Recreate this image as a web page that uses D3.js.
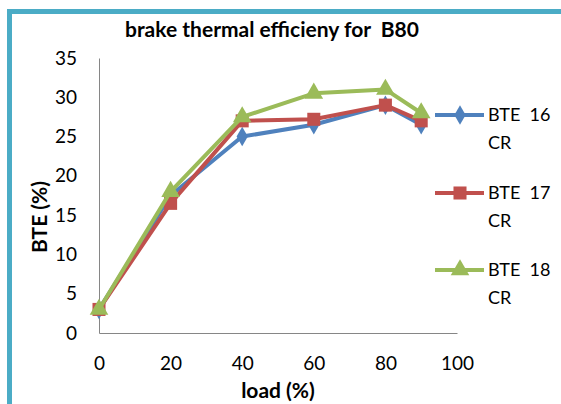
<!DOCTYPE html>
<html>
<head>
<meta charset="utf-8">
<script src="https://cdn.jsdelivr.net/npm/d3@7"></script>
<style>
  body { margin: 0; background: #fff; }
  svg { display: block; font-family: Lato, "Open Sans", sans-serif; }
</style>
</head>
<body>
<div id="chart"></div>
<script>
// 数据
var loads = [0, 20, 40, 60, 80, 90];
var bte16 = [3, 17.5, 25, 26.5, 29, 26.5];
var bte17 = [3, 16.5, 27, 27.2, 29, 27];
var bte18 = [3, 18, 27.5, 30.5, 31, 28];
var xTicks = [0, 20, 40, 60, 80, 100];
var yTicks = [0, 5, 10, 15, 20, 25, 30, 35];
var seriesNames = [["BTE  16", "CR"], ["BTE  17", "CR"], ["BTE  18", "CR"]];

var W = 561, H = 404;
var svg = d3.select("#chart").append("svg").attr("width", W).attr("height", H);

// 外框
svg.append("path")
  .attr("d", "M9.5," + H + " L9.5,11.5 L" + W + ",11.5")
  .attr("fill", "none")
  .attr("stroke", "#4BACC6")
  .attr("stroke-width", 5);

var x = d3.scaleLinear().domain([0, 100]).range([99, 457]);
var y = d3.scaleLinear().domain([0, 35]).range([333, 58]);

svg.append("text")
  .attr("x", 272).attr("y", 37)
  .attr("text-anchor", "middle")
  .attr("font-size", 21).attr("font-weight", "bold")
  .attr("fill", "#000")
  .style("white-space", "pre")
  .text("brake thermal efficieny for  B80");

// 坐标轴
var gx = svg.append("g").attr("transform", "translate(0,333)")
  .call(d3.axisBottom(x).tickValues(xTicks).tickSize(0).tickPadding(24));
var gy = svg.append("g").attr("transform", "translate(99,0)")
  .call(d3.axisLeft(y).tickValues(yTicks).tickSize(0).tickPadding(22));
[gx, gy].forEach(function (g) {
  g.select(".domain").attr("stroke", "#868686").attr("stroke-width", 1);
  g.selectAll("text").attr("font-size", 19).attr("fill", "#000")
    .attr("font-family", "Lato, 'Open Sans', sans-serif");
});

svg.append("text")
  .attr("x", 278).attr("y", 398)
  .attr("text-anchor", "middle")
  .attr("font-size", 21).attr("font-weight", "bold")
  .text("load (%)");
svg.append("text")
  .attr("transform", "translate(47,217) rotate(-90)")
  .attr("text-anchor", "middle")
  .attr("font-size", 21).attr("font-weight", "bold")
  .text("BTE (%)");

var series = [
  { values: bte16, color: "#4F81BD", symbol: d3.symbolDiamond, size: 110 },
  { values: bte17, color: "#C0504D", symbol: d3.symbolSquare, size: 170 },
  { values: bte18, color: "#9BBB59", symbol: d3.symbolTriangle, size: 150 }
];

var line = d3.line().x(function (d) { return x(d[0]); }).y(function (d) { return y(d[1]); });

series.forEach(function (s) {
  var pts = loads.map(function (l, i) { return [l, s.values[i]]; });
  svg.append("path")
    .attr("d", line(pts))
    .attr("fill", "none")
    .attr("stroke", s.color)
    .attr("stroke-width", 4)
    .attr("stroke-linejoin", "round");
  svg.selectAll(null).data(pts).enter().append("path")
    .attr("d", d3.symbol().type(s.symbol).size(s.size))
    .attr("transform", function (d) { return "translate(" + x(d[0]) + "," + y(d[1]) + ")"; })
    .attr("fill", s.color);
});

// 图例
var legendY = [115, 193, 270];
series.forEach(function (s, i) {
  var g = svg.append("g").attr("transform", "translate(0," + legendY[i] + ")");
  g.append("line").attr("x1", 435).attr("x2", 484).attr("y1", 0).attr("y2", 0)
    .attr("stroke", s.color).attr("stroke-width", 4);
  g.append("path").attr("d", d3.symbol().type(s.symbol).size(s.size))
    .attr("transform", "translate(460,0)").attr("fill", s.color);
  var t = g.append("text").attr("font-size", 18).attr("fill", "#000");
  t.append("tspan").attr("x", 488).attr("y", 6).style("white-space", "pre").text(seriesNames[i][0]);
  t.append("tspan").attr("x", 488).attr("y", 34).text(seriesNames[i][1]);
});
</script>
</body>
</html>
